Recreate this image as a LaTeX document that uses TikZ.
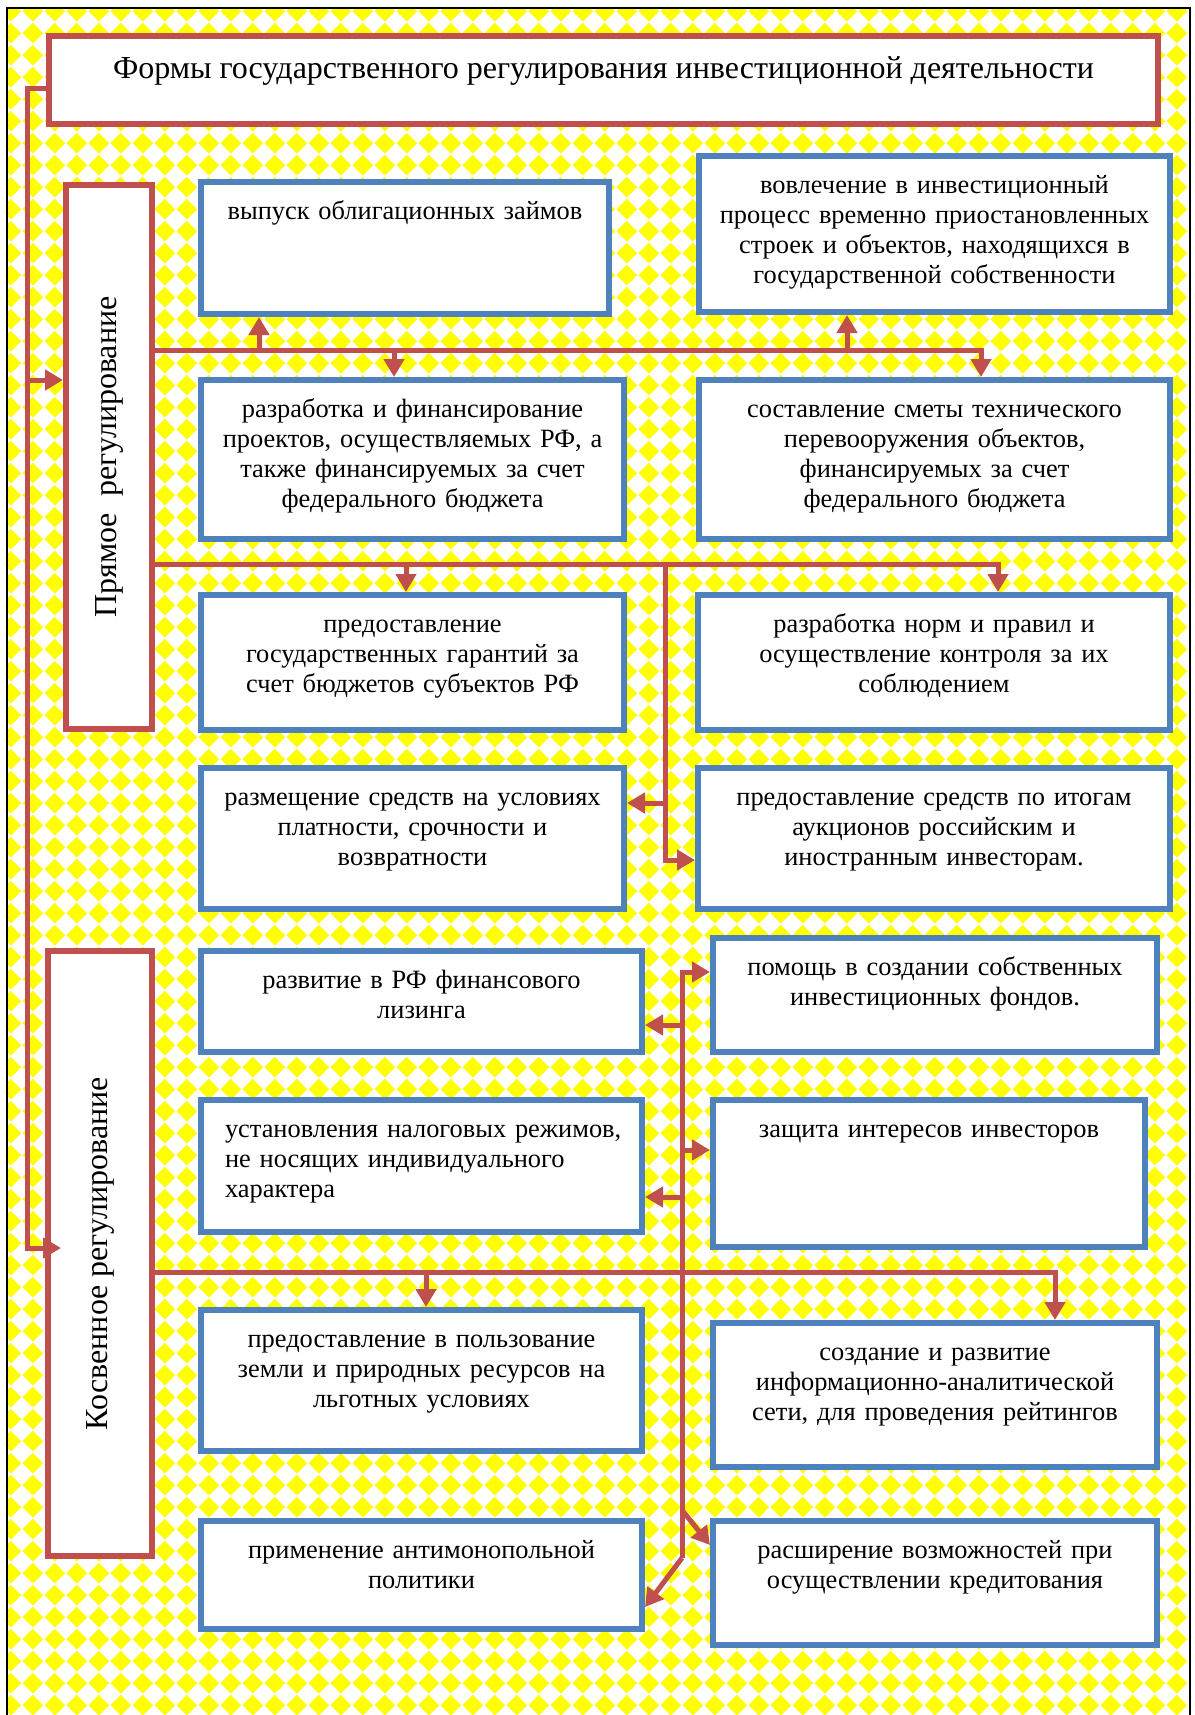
\documentclass[tikz,border=0pt]{standalone}
\usepackage{fontspec}
\setmainfont{Liberation Serif}
\usetikzlibrary{arrows.meta,patterns,calc}

\definecolor{frmred}{HTML}{C0504D}
\definecolor{frmblue}{HTML}{4F81BD}

\newcommand{\boxfont}{\fontsize{13.2}{15}\selectfont}
\newcommand{\headfont}{\fontsize{16}{19}\selectfont}

% yellow diamond background
\pgfdeclarepatternformonly{ydiamonds}{\pgfqpoint{0pt}{0pt}}{\pgfqpoint{10.9pt}{10.9pt}}{\pgfqpoint{10.9pt}{10.9pt}}{%
  \pgfpathmoveto{\pgfqpoint{5.45pt}{0.25pt}}%
  \pgfpathlineto{\pgfqpoint{10.65pt}{5.45pt}}%
  \pgfpathlineto{\pgfqpoint{5.45pt}{10.65pt}}%
  \pgfpathlineto{\pgfqpoint{0.25pt}{5.45pt}}%
  \pgfpathclose
  \pgfusepath{fill}}

\tikzset{
  redbox/.style={draw=frmred, line width=3pt, fill=white, inner sep=0pt},
  bluebox/.style={draw=frmblue, line width=3pt, fill=white, inner sep=0pt},
  boxtext/.style={anchor=base, inner sep=0pt, font=\boxfont},
  conn/.style={draw=frmred, line width=2.5pt},
  arr/.style={conn, -{Triangle[length=9pt,width=10pt]}},
}

% \formbox[text options]{name}{x1}{y1}{x2}{y2}{text}, outer edges in px
\newcommand{\formbox}[7][align=center]{%
  \pgfmathsetmacro{\bw}{(#5-#3-6)/2}%
  \pgfmathsetmacro{\bh}{(#6-#4-6)/2}%
  \pgfmathsetmacro{\tw}{\bw-8}%
  \node[bluebox, minimum width=\bw pt, minimum height=\bh pt] (#2) at ({(#3+#5)/2},{(#4+#6)/2}) {};
  \node[boxtext, text width=\tw pt, #1] (#2t) at ([yshift=-20pt]#2.north) {#7};
}

\begin{document}
\begin{tikzpicture}[x=0.5pt,y=-0.5pt]
\useasboundingbox (0,0) rectangle (1195,1715);

% Background
\fill[white] (0,0) rectangle (1195,1715);
\fill[pattern=ydiamonds, pattern color=yellow] (7,8) rectangle (1190,1715);
\draw[black, line width=1pt] (7,1715) -- (7,8) -- (1190,8) -- (1190,1715);

% Title and groups
\node[redbox, minimum width=554.5pt, minimum height=44pt] (T) at (603.5,80) {};
\node[anchor=base, font=\headfont] (Tt) at ([yshift=1pt]T.center) {Формы государственного регулирования инвестиционной деятельности};

\node[redbox, minimum width=43pt, minimum height=272pt] (P) at (109,457) {};
\node[rotate=90, font=\headfont] (Pt) at (P.center) {Прямое\ \ регулирование};

\node[redbox, minimum width=52pt, minimum height=302.5pt] (K) at (100,1253.5) {};
\node[rotate=90, font=\headfont] (Kt) at (K.center) {Косвенное регулирование};

% Direct forms
\formbox{b1}{198}{179}{612}{317}{выпуск облигационных займов}
\formbox{b2}{696}{153}{1173}{315}{вовлечение в инвестиционный\\процесс временно приостановленных\\строек и объектов, находящихся в\\государственной собственности}
\formbox{b3}{198}{377}{627}{542}{разработка и финансирование\\проектов, осуществляемых РФ, а\\также финансируемых за счет\\федерального бюджета}
\formbox{b4}{696}{377}{1173}{542}{составление сметы технического\\перевооружения объектов,\\финансируемых за счет\\федерального бюджета}
\formbox{b5}{198}{592}{627}{733}{предоставление\\государственных гарантий за\\счет бюджетов субъектов РФ}
\formbox{b6}{695}{592}{1173}{733}{разработка норм и правил и\\осуществление контроля за их\\соблюдением}
\formbox{b7}{198}{765}{627}{912}{размещение средств на условиях\\платности, срочности и\\возвратности}
\formbox{b8}{695}{765}{1173}{912}{предоставление средств по итогам\\аукционов российским и\\иностранным инвесторам.}

% Indirect forms
\formbox{b9}{198}{948}{645}{1055}{развитие в РФ финансового\\лизинга}
\formbox{b10}{710}{935}{1160}{1055}{помощь в создании собственных\\инвестиционных фондов.}
\formbox[align=left, xshift=8pt]{b11}{198}{1097}{645}{1235}{установления налоговых режимов,\\не носящих индивидуального\\характера}
\formbox{b12}{710}{1097}{1148}{1250}{защита интересов инвесторов}
\formbox{b13}{198}{1307}{645}{1454}{предоставление в пользование\\земли и природных ресурсов на\\льготных условиях}
\formbox{b14}{710}{1320}{1160}{1470}{создание и развитие\\информационно-аналитической\\сети, для проведения рейтингов}
\formbox{b15}{198}{1518}{645}{1632}{применение антимонопольной\\политики}
\formbox{b16}{710}{1518}{1160}{1648}{расширение возможностей при\\осуществлении кредитования}

% Left connector
\coordinate (lb1) at (27,380);
\coordinate (lb2) at (27,1248);
\draw[arr] ([yshift=-4pt]T.west) -| (lb2) -- ([xshift=8pt]K.west |- lb2);
\draw[arr] (lb1) -- (lb1 -| P.west);

% Bus 1
\coordinate (u1) at (259,350);
\coordinate (d1) at (394,350);
\coordinate (u2) at (847,350);
\coordinate (d2) at (981,350);
\draw[arr] (P.east |- d2) -- (d2) -- (d2 |- b4.north);
\draw[arr] (u1) -- (u1 |- b1.south);
\draw[arr] (d1) -- (d1 |- b3.north);
\draw[arr] (u2) -- (u2 |- b2.south);

% Bus 2
\coordinate (d3) at (406,564);
\coordinate (d4) at (998,564);
\coordinate (v1) at (665,564);
\coordinate (v2) at (665,803);
\coordinate (v3) at (665,860);
\draw[arr] (P.east |- d4) -- (d4) -- (d4 |- b6.north);
\draw[arr] (d3) -- (d3 |- b5.north);
\draw[arr] (v1) |- (b8.west |- v3);
\draw[arr] (v2) -- (v2 -| b7.east);

% Bus 3
\coordinate (d5) at (426,1272);
\coordinate (d6) at (1055,1272);
\draw[arr] (K.east |- d6) -- (d6) -- (d6 |- b14.north);
\draw[arr] (d5) -- (d5 |- b13.north);

% Middle spine
\coordinate (w1) at (682,972);
\coordinate (w2) at (682,1025);
\coordinate (w3) at (682,1150);
\coordinate (w4) at (682,1197);
\coordinate (w5) at (682,1510);
\coordinate (w6) at (682,1558);
\coordinate (e7) at (0,1607);
\coordinate (e8) at (0,1545);
\draw[arr] (w6) -- (w1) -- (b10.west |- w1);
\draw[arr] (w2) -- (w2 -| b9.east);
\draw[arr] (w3) -- (w3 -| b12.west);
\draw[arr] (w4) -- (w4 -| b11.east);
\draw[arr] (w5) -- (b16.west |- e8);
\draw[arr] (w6) -- (b15.east |- e7);
\end{tikzpicture}
\end{document}
